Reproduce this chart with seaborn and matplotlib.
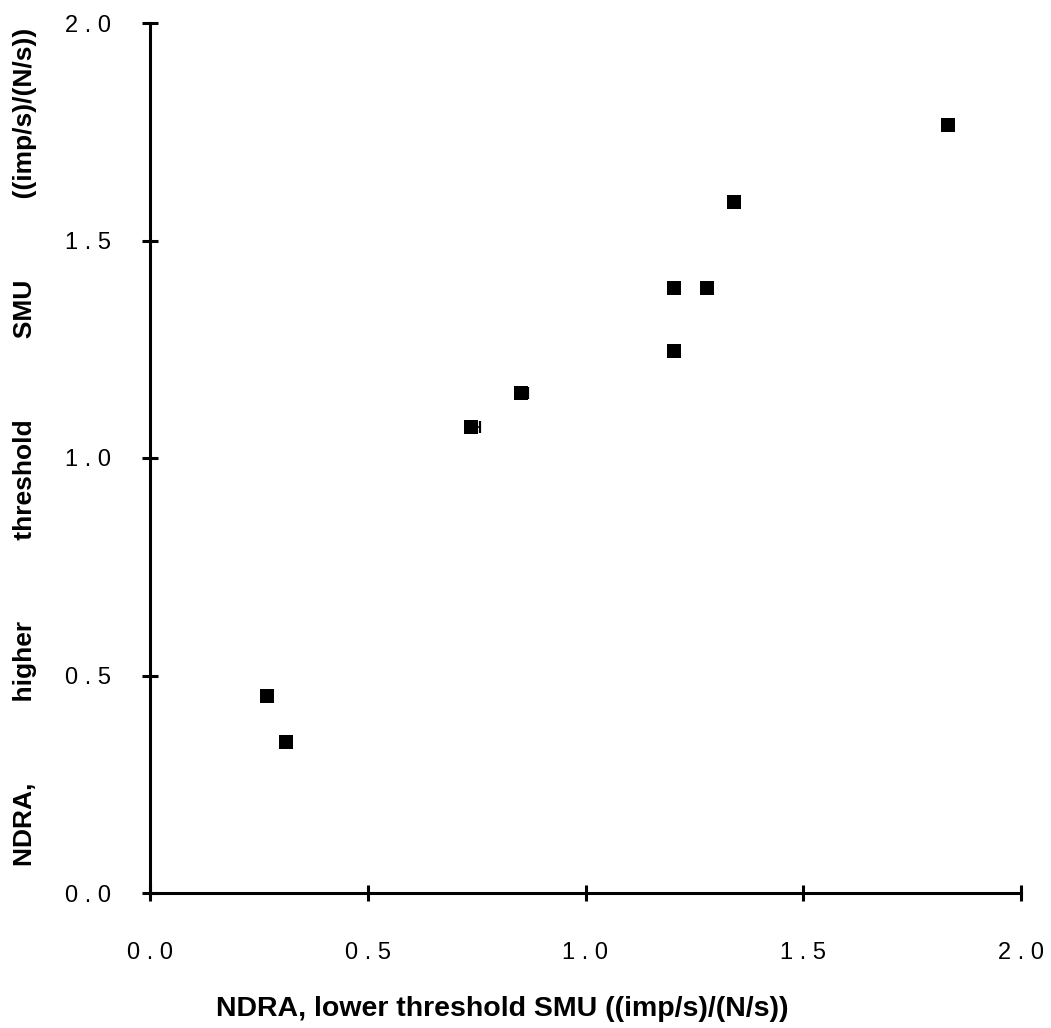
import matplotlib
matplotlib.use("Agg")
import matplotlib.pyplot as plt
import seaborn as sns
import pandas as pd

# Data
lower_ndra = [0.268, 0.312, 0.738, 0.853, 1.203, 1.203, 1.279, 1.342, 1.832]
higher_ndra = [0.454, 0.346, 1.071, 1.149, 1.391, 1.245, 1.391, 1.589, 1.765]
# small right-hand error caps on two points
err_x = [0.738, 0.853]
err_y = [1.071, 1.149]
err_right = [0.020, 0.016]

x_ticks = [0.0, 0.5, 1.0, 1.5, 2.0]
y_ticks = [0.0, 0.5, 1.0, 1.5, 2.0]
tick_labels = ["0 . 0", "0 . 5", "1 . 0", "1 . 5", "2 . 0"]

xlabel = "NDRA, lower threshold SMU ((imp/s)/(N/s))"
gap = " " * 11
ylabel = gap.join(["NDRA,", "higher", "threshold", "SMU", "((imp/s)/(N/s))"])

df = pd.DataFrame({"lower": lower_ndra, "higher": higher_ndra})

sns.set_theme(style="white")
plt.rcParams['font.family'] = ['Liberation Sans', 'DejaVu Sans']
plt.rcParams['text.color'] = 'black'
plt.rcParams['axes.labelcolor'] = 'black'

fig = plt.figure(figsize=(10.51, 10.28), dpi=100)
ax = fig.add_axes([150 / 1051, 1 - 893 / 1028, (1021 - 150) / 1051, (893 - 23) / 1028])

sns.scatterplot(data=df, x="lower", y="higher", ax=ax, marker="s", s=95,
                color="black", linewidth=0, zorder=3)
cap_x = [x + e for x, e in zip(err_x, err_right)]
ax.hlines(err_y, err_x, cap_x, color="black", linewidth=1.2, zorder=2)
ax.scatter(cap_x, err_y, marker="|", s=80, color="black", linewidths=1.6, zorder=2)

ax.set_xlim(0, 2.0)
ax.set_ylim(0, 2.0)
for side in ["top", "right"]:
    ax.spines[side].set_visible(False)
for side in ["left", "bottom"]:
    ax.spines[side].set_linewidth(2.2)
    ax.spines[side].set_color("black")

ax.set_xticks(x_ticks)
ax.set_yticks(y_ticks)
ax.set_xticklabels(tick_labels)
ax.set_yticklabels(tick_labels)
ax.tick_params(axis="both", which="major", bottom=True, left=True,
               direction="inout", length=12, width=2.2, color="black",
               labelsize=17, labelcolor="black")
ax.tick_params(axis="x", pad=29)
ax.tick_params(axis="y", pad=22)

ax.set_xlabel(xlabel, fontsize=20.5, fontweight="bold")
ax.set_ylabel(ylabel, fontsize=19, fontweight="bold")
ax.xaxis.set_label_coords(0.404, -0.118)
ax.yaxis.set_label_coords(-0.130, 0.513)

fig.savefig("out.png", dpi=100, facecolor="white")
